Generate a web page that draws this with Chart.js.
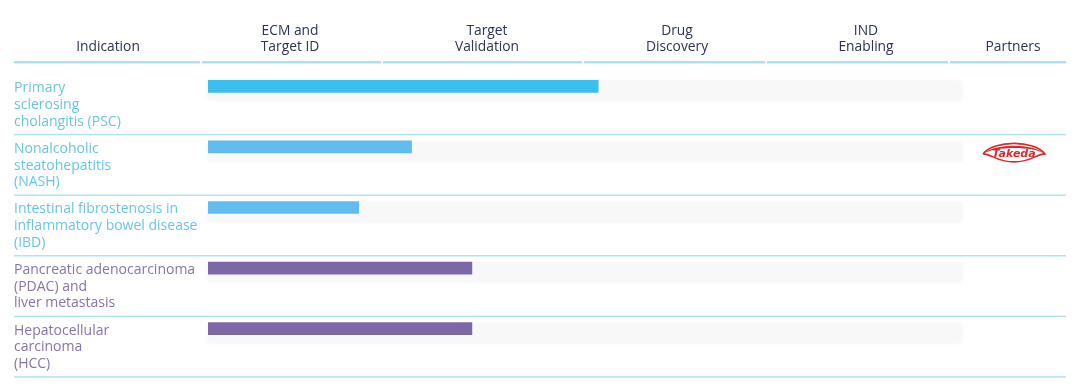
<!DOCTYPE html>
<html>
<head>
<meta charset="utf-8">
<script src="https://cdn.jsdelivr.net/npm/chart.js@4"></script>
<style>
  html, body { margin: 0; padding: 0; background: #fff; }
  #wrap { width: 1080px; height: 386px; position: relative; }
</style>
</head>
<body>
<div id="wrap"><canvas id="pipeline"></canvas></div>
<script>
// data
const indications = ["PSC", "NASH", "IBD", "PDAC", "HCC"];
const indicationLabels = [
  ["Primary", "sclerosing", "cholangitis (PSC)"],
  ["Nonalcoholic", "steatohepatitis", "(NASH)"],
  ["Intestinal fibrostenosis in", "inflammatory bowel disease", "(IBD)"],
  ["Pancreatic adenocarcinoma", "(PDAC) and", "liver metastasis"],
  ["Hepatocellular", "carcinoma", "(HCC)"]
];
const stages = [["ECM and", "Target ID"], ["Target", "Validation"], ["Drug", "Discovery"], ["IND", "Enabling"]];
const progress = [2.07, 1.08, 0.80, 1.40, 1.40];
const partners = ["", "Takeda", "", "", ""];

// styles
const barColors = ["#3bbfee", "#62bdef", "#62bdef", "#7c67a7", "#7c67a7"];
const labelColors = ["#66c6ec", "#66c6ec", "#66c6ec", "#8873ad", "#8873ad"];
const headerColor = "#2c3452";
const lineColor = "#b0e3f4";
const FONT = '"Open Sans", sans-serif';
const headerX = [108, 290, 487, 677, 866, 1013];
const headerSegments = [[14, 200], [202, 381], [383, 582], [584, 765], [767, 948], [950, 1066]];

const layoutPlugin = {
  id: "pipelineLayout",
  beforeDatasetsDraw(chart) {
    const { ctx, scales: { x, y } } = chart;
    const meta = chart.getDatasetMeta(0);
    ctx.save();
    // header
    ctx.fillStyle = headerColor;
    ctx.font = "500 13.8px " + FONT;
    ctx.textAlign = "center";
    ctx.textBaseline = "middle";
    const heads = [["Indication"]].concat(stages).concat([["Partners"]]);
    heads.forEach((h, i) => {
      const lines = h.length === 1 ? ["", h[0]] : h;
      lines.forEach((t, j) => ctx.fillText(t, headerX[i], 31 + j * 16));
    });
    ctx.fillStyle = "#a9e1f6";
    headerSegments.forEach(s => ctx.fillRect(s[0], 61, s[1] - s[0], 2.5));

    // rows
    indications.forEach((ind, i) => {
      const bar = meta.data[i];
      const cy = y.getPixelForValue(i);
      const top = bar.y - bar.height / 2;
      // track
      ctx.save();
      ctx.shadowColor = "rgba(0,0,0,0.05)";
      ctx.shadowBlur = 4;
      ctx.fillStyle = "#f8f8f8";
      ctx.fillRect(x.getPixelForValue(0), top + 1, x.getPixelForValue(stages.length) - x.getPixelForValue(0), 19);
      ctx.restore();
      // separator
      ctx.fillStyle = lineColor;
      ctx.fillRect(14, cy + 47.5, 1052, 1.5);
      // label
      ctx.fillStyle = labelColors[i];
      ctx.font = "14px " + FONT;
      ctx.textAlign = "left";
      indicationLabels[i].forEach((t, j) => ctx.fillText(t, 14, cy + 2 + j * 16.7));
      // partner
      if (partners[i] === "Takeda") drawTakeda(ctx, headerX[5] + 1, cy + 6);
    });
    ctx.restore();
  }
};

function drawTakeda(ctx, cx, cy) {
  ctx.save();
  ctx.strokeStyle = "#e0262a";
  ctx.fillStyle = "#e0262a";
  ctx.lineWidth = 1.6;
  // outer ribbon
  ctx.beginPath();
  ctx.moveTo(cx - 31, cy + 1);
  ctx.bezierCurveTo(cx - 20, cy - 13, cx + 20, cy - 13, cx + 31, cy + 1);
  ctx.bezierCurveTo(cx + 22, cy + 1, cx + 18, cy + 9, cx, cy + 9);
  ctx.bezierCurveTo(cx - 18, cy + 9, cx - 22, cy + 1, cx - 31, cy + 1);
  ctx.stroke();
  ctx.beginPath();
  ctx.moveTo(cx - 31, cy + 1);
  ctx.bezierCurveTo(cx - 20, cy - 10, cx + 20, cy - 10, cx + 31, cy + 1);
  ctx.bezierCurveTo(cx + 20, cy - 7, cx - 20, cy - 7, cx - 31, cy + 1);
  ctx.fill();
  ctx.font = 'italic bold 11px "DejaVu Sans", sans-serif';
  ctx.textAlign = "center";
  ctx.textBaseline = "middle";
  ctx.fillText("Takeda", cx, cy + 1.5);
  ctx.restore();
}

new Chart(document.getElementById("pipeline"), {
  type: "bar",
  data: {
    labels: indications,
    datasets: [{
      data: progress,
      backgroundColor: barColors,
      barThickness: 12,
      borderWidth: 0
    }]
  },
  options: {
    indexAxis: "y",
    responsive: true,
    maintainAspectRatio: false,
    animation: false,
    layout: { padding: { left: 208, right: 118, top: 56, bottom: 27 } },
    scales: {
      x: { display: false, min: 0, max: stages.length },
      y: { display: false, offset: true }
    },
    plugins: { legend: { display: false }, tooltip: { enabled: false } }
  },
  plugins: [layoutPlugin]
});
</script>
</body>
</html>
